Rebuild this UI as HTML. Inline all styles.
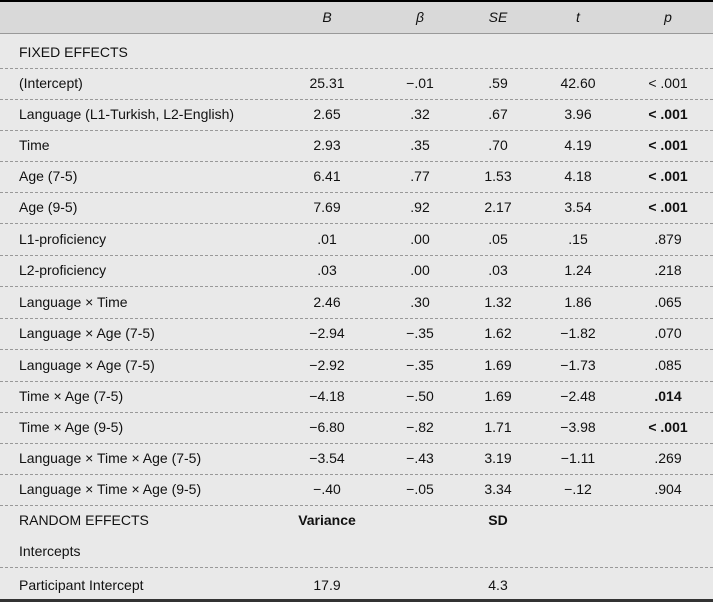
<!DOCTYPE html>
<html><head><meta charset="utf-8"><style>
body{margin:0;width:713px;height:602px;background:#e9e9e9;font-family:"Liberation Sans",sans-serif;font-size:14px;color:#111;position:relative;overflow:hidden}
.top{position:absolute;left:0;top:0;width:713px;height:2px;background:#000}
.hdr{position:absolute;left:0;top:2px;width:713px;height:31px;background:#d9d9d9;border-bottom:1px solid #999}
.bot{position:absolute;left:0;top:599px;width:713px;height:3px;background:#333}
.row{position:absolute;left:0;width:713px;height:31px}
.sep{position:absolute;left:0;width:713px;border-top:1px dashed #999}
.c{position:absolute;top:0;line-height:31px;white-space:nowrap;transform:translateX(-50%)}
.l{position:absolute;left:19px;top:0;line-height:31px;white-space:nowrap}
.b{font-weight:bold}
.i{font-style:italic}
</style></head><body>
<div class="top"></div>
<div class="hdr">
<span class="c i" style="left:327px">B</span>
<span class="c i" style="left:420px">β</span>
<span class="c i" style="left:498px">SE</span>
<span class="c i" style="left:578px">t</span>
<span class="c i" style="left:668px">p</span>
</div>
<div id="body"></div>
<div class="bot"></div>
<script>
const labels=["FIXED EFFECTS","(Intercept)","Language (L1-Turkish, L2-English)","Time","Age (7-5)","Age (9-5)","L1-proficiency","L2-proficiency","Language × Time","Language × Age (7-5)","Language × Age (7-5)","Time × Age (7-5)","Time × Age (9-5)","Language × Time × Age (7-5)","Language × Time × Age (9-5)","RANDOM EFFECTS","Intercepts","Participant Intercept"];
const colB=["","25.31","2.65","2.93","6.41","7.69",".01",".03","2.46","−2.94","−2.92","−4.18","−6.80","−3.54","−.40","Variance","","17.9"];
const colBeta=["","−.01",".32",".35",".77",".92",".00",".00",".30","−.35","−.35","−.50","−.82","−.43","−.05","","",""];
const colSE=["",".59",".67",".70","1.53","2.17",".05",".03","1.32","1.62","1.69","1.69","1.71","3.19","3.34","SD","","4.3"];
const colT=["","42.60","3.96","4.19","4.18","3.54",".15","1.24","1.86","−1.82","−1.73","−2.48","−3.98","−1.11","−.12","","",""];
const colP=["","< .001","< .001","< .001","< .001","< .001",".879",".218",".065",".070",".085",".014","< .001",".269",".904","","",""];
const boldP=[0,0,1,1,1,1,0,0,0,0,0,1,1,0,0,0,0,0];
const tops=[37,68,99,130,161,192,224,255,287,318,350,381,412,443,474,505,536,570];
const sepsAfter=[0,1,2,3,4,5,6,7,8,9,10,11,12,13,14,16];
const xs=[327,420,498,578,668];
const body=document.getElementById('body');
labels.forEach((lab,i)=>{
  const r=document.createElement('div');r.className='row';r.style.top=tops[i]+'px';
  
  
  const l=document.createElement('span');l.className='l';l.textContent=lab;
  
  
  r.appendChild(l);
  [colB,colBeta,colSE,colT,colP].forEach((col,j)=>{
    if(!col[i])return;
    const s=document.createElement('span');s.className='c';s.style.left=xs[j]+'px';s.textContent=col[i];
    if(j==4&&boldP[i])s.classList.add('b');
    if(i==15)s.classList.add('b');
    
    
    r.appendChild(s);
  });
  body.appendChild(r);
});
sepsAfter.forEach(i=>{
  const d=document.createElement('div');d.className='sep';
  d.style.top=(i==16?567:tops[i]+31)+'px';
  
  
  body.appendChild(d);
});
</script>
</body></html>
